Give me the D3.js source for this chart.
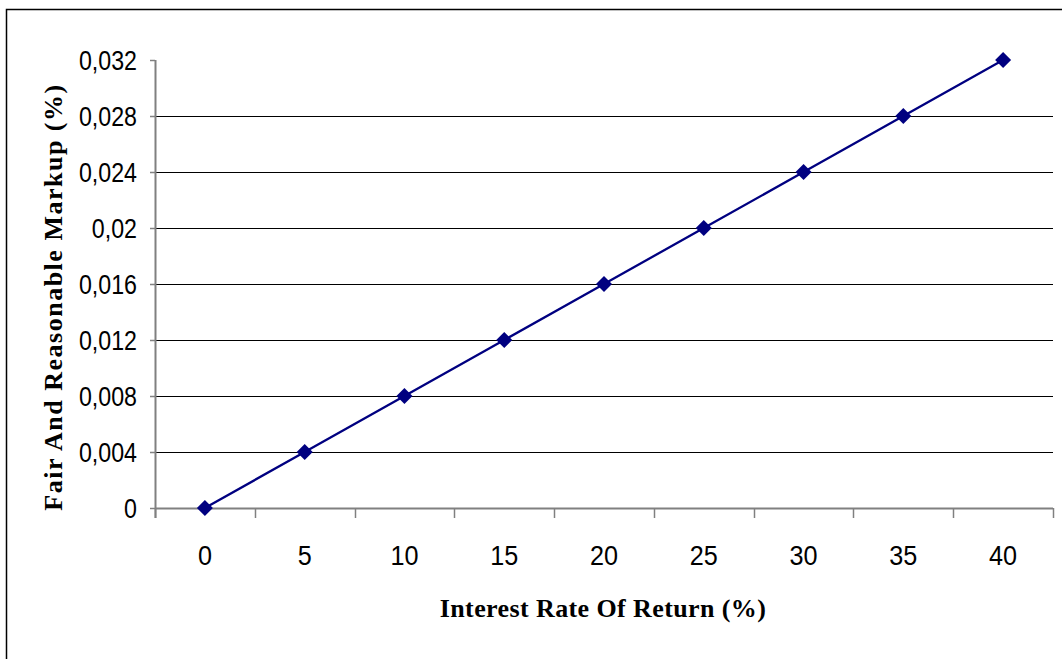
<!DOCTYPE html>
<html><head><meta charset="utf-8">
<script src="https://cdn.jsdelivr.net/npm/d3@7"></script>
<style>body{margin:0;background:#fff}</style>
</head><body>
<svg id="c" width="1062" height="659"></svg>
<script>
const categories = [0, 5, 10, 15, 20, 25, 30, 35, 40];
const markup = [0, 0.004, 0.008, 0.012, 0.016, 0.02, 0.024, 0.028, 0.032];
const yTicks = [0, 0.004, 0.008, 0.012, 0.016, 0.02, 0.024, 0.028, 0.032];
const yTickLabels = ["0", "0,004", "0,008", "0,012", "0,016", "0,02", "0,024", "0,028", "0,032"];
const xTitle = "Interest Rate Of Return (%)";
const yTitle = "Fair And Reasonable Markup (%)";

const svg = d3.select("#c");
svg.append("rect").attr("x", 6.5).attr("y", 9.5).attr("width", 1070).attr("height", 670)
  .attr("fill", "none").attr("stroke", "#000").attr("stroke-width", 1.5);

const L = 155, R = 1053, T = 60, B = 508;
const x = d3.scaleBand().domain(categories).range([L, R]);
const y = d3.scaleLinear().domain([0, 0.032]).range([B, T]);
const sans = "Liberation Sans, Arial, sans-serif";
const serif = "Liberation Serif, Times New Roman, serif";

// gridlines (not at top)
svg.append("g").selectAll("line").data(yTicks.filter(d => d > 0 && d < 0.032)).join("line")
  .attr("x1", L).attr("x2", R).attr("y1", d => Math.round(y(d)) + 0.5).attr("y2", d => Math.round(y(d)) + 0.5)
  .attr("stroke", "#000").attr("stroke-width", 1);

// y axis ticks & labels
svg.append("g").selectAll("line").data(yTicks).join("line")
  .attr("x1", L - 5).attr("x2", L).attr("y1", d => Math.round(y(d)) + 0.5).attr("y2", d => Math.round(y(d)) + 0.5)
  .attr("stroke", "#808080").attr("stroke-width", 1.5);
svg.append("g").selectAll("text").data(yTicks).join("text")
  .attr("transform", d => `translate(137,${y(d) + 10}) scale(0.86,1)`)
  .attr("text-anchor", "end").attr("font-family", sans).attr("font-size", 27).attr("fill", "#000")
  .text((d, i) => yTickLabels[i]);
svg.append("line").attr("x1", L + 0.5).attr("x2", L + 0.5).attr("y1", T).attr("y2", B + 10)
  .attr("stroke", "#808080").attr("stroke-width", 2);

// x axis
svg.append("line").attr("x1", L).attr("x2", R).attr("y1", B + 0.5).attr("y2", B + 0.5)
  .attr("stroke", "#808080").attr("stroke-width", 2);
const boundaries = categories.map(c => x(c)).concat([x(categories[categories.length - 1]) + x.bandwidth()]);
svg.append("g").selectAll("line").data(boundaries).join("line")
  .attr("x1", d => Math.round(d) + 0.5).attr("x2", d => Math.round(d) + 0.5).attr("y1", B).attr("y2", B + 10)
  .attr("stroke", "#808080").attr("stroke-width", 1.5);
svg.append("g").selectAll("text").data(categories).join("text")
  .attr("transform", d => `translate(${x(d) + x.bandwidth() / 2},565) scale(0.9,1)`)
  .attr("text-anchor", "middle").attr("font-family", sans).attr("font-size", 28)
  .text(d => d);

// line + markers
const line = d3.line().x((d, i) => x(categories[i]) + x.bandwidth() / 2).y(d => y(d));
svg.append("path").datum(markup).attr("d", line).attr("fill", "none").attr("stroke", "#000080").attr("stroke-width", 2.3);
svg.append("g").selectAll("path").data(markup).join("path")
  .attr("transform", (d, i) => `translate(${x(categories[i]) + x.bandwidth() / 2},${y(d)})`)
  .attr("d", "M0,-8L8,0L0,8L-8,0Z").attr("fill", "#000080");

// titles
svg.append("text").attr("x", 603).attr("y", 617).attr("text-anchor", "middle")
  .attr("font-family", serif).attr("font-weight", "bold").attr("font-size", 26)
  .attr("letter-spacing", 0.4).text(xTitle);
svg.append("text").attr("transform", "translate(62,297) rotate(-90)").attr("text-anchor", "middle")
  .attr("font-family", serif).attr("font-weight", "bold").attr("font-size", 26)
  .attr("letter-spacing", 1.5).text(yTitle);
</script>
</body></html>
